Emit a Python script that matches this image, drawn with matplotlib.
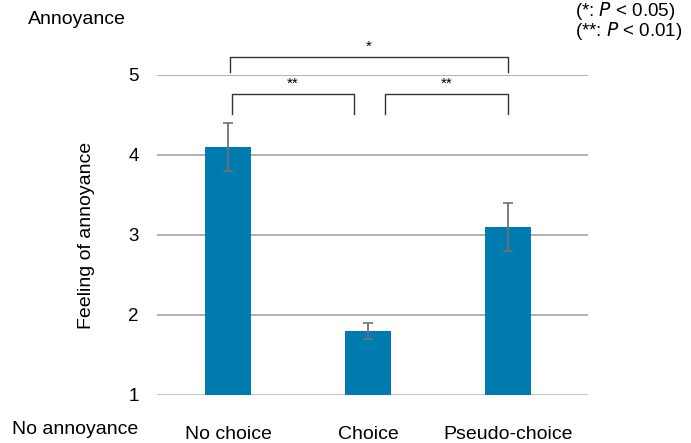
import numpy as np
import matplotlib.pyplot as plt

plt.rcParams['font.family'] = ['Liberation Sans', 'DejaVu Sans']

groups = ['No choice', 'Choice', 'Pseudo-choice']
means = [4.1, 1.8, 3.1]
errs = [0.3, 0.1, 0.3]
yticks = [1, 2, 3, 4, 5]

bar_color = '#007bb0'

fig = plt.figure(figsize=(6.91, 4.43), dpi=100)
ax = fig.add_axes([0.2272, 0.1084, 0.6237, 0.7223])

x = np.arange(len(groups))
ax.bar(x, np.array(means) - 1, bottom=1, width=0.33, color=bar_color, zorder=3)
ax.errorbar(x, means, yerr=errs, fmt='none', ecolor='#6e7378', elinewidth=1.3,
            capsize=3.5, capthick=1.2, zorder=4)

ax.set_xlim(-0.507, 2.57)
ax.set_ylim(1, 5)
ax.set_yticks(yticks)
ax.set_yticklabels([str(t) for t in yticks], fontsize=13.5)
ax.tick_params(axis='y', length=0, pad=13)
ax.tick_params(axis='x', length=0, pad=22)
ax.set_xticks(x)
ax.set_xticklabels(groups, fontsize=14)
for s in ax.spines.values():
    s.set_visible(False)
for t in yticks[1:]:
    ax.axhline(t, color='#a3a3a3', lw=1.2, zorder=1)
ax.axhline(1, color='#c4c4c4', lw=2.2, zorder=2)

ax.set_ylabel('Feeling of annoyance', fontsize=14, labelpad=24)

# significance brackets
def bracket(x0, x1, ytop, ybot, label):
    ax.plot([x0, x0, x1, x1], [ybot, ytop, ytop, ybot], color='#333333', lw=1,
            clip_on=False, zorder=5)
    ax.text((x0 + x1) / 2, ytop + 0.04, label, ha='center', va='bottom',
            fontsize=11, clip_on=False)

bracket(0.015, 2.0, 5.23, 5.04, '*')
bracket(0.03, 0.9, 4.76, 4.51, '**')
bracket(1.12, 2.0, 4.76, 4.51, '**')

fig.text(28 / 691, 1 - 20 / 443, 'Annoyance', fontsize=14, ha='left', va='center')
fig.text(12 / 691, 1 - 429 / 443, 'No annoyance', fontsize=14, ha='left', va='center')
fig.text(575 / 691, 1 - 11 / 443, '(*: $\\it{P}$ < 0.05)', fontsize=13.5,
         ha='left', va='center')
fig.text(575 / 691, 1 - 31 / 443, '(**: $\\it{P}$ < 0.01)', fontsize=13.5,
         ha='left', va='center')

plt.savefig('out.png')
